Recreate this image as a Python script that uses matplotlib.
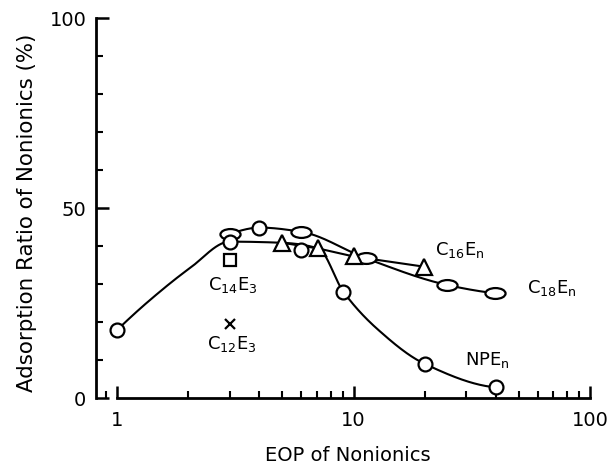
import numpy as np
import matplotlib
matplotlib.use("Agg")
import matplotlib.pyplot as plt
from matplotlib.path import Path
from matplotlib.transforms import Affine2D
from matplotlib.ticker import FixedLocator, NullFormatter, MultipleLocator, LogLocator

plt.rcParams['font.family'] = ['DejaVu Sans']
plt.rcParams['mathtext.fontset'] = 'dejavusans'

# ---- data ----
npe_x = [1, 3, 4, 6, 9, 20, 40]
npe_y = [17.9, 41.2, 44.9, 39.0, 28.0, 9.0, 2.8]

c18_x = [3, 6, 11.3, 24.8, 39.7]
c18_y = [43.2, 43.8, 36.8, 29.8, 27.6]

c16_x = [5, 7.1, 10, 19.9]
c16_y = [40.9, 39.4, 37.3, 34.6]

c14_x = [3]
c14_y = [36.4]

c12_x = [3]
c12_y = [19.5]

# fitted curves (as drawn in the picture)
low_curve_x = [1, 1.36, 2.04, 3, 5, 7.1, 9.06, 12.6, 20, 40]
low_curve_y = [17.9, 25.5, 34.3, 41.2, 40.9, 39.4, 28.0, 18.2, 9.0, 2.8]
up_curve_x = [3, 4.02, 6, 11.3, 24.8, 39.7]
up_curve_y = [43.2, 44.9, 43.8, 36.8, 29.8, 27.6]

x_ticks = [1, 10, 100]
x_ticklabels = ['1', '10', '100']
y_ticks = [0, 50, 100]
y_ticklabels = ['0', '50', '100']


def pchip(xs, ys, xn):
    xs = np.asarray(xs, float); ys = np.asarray(ys, float)
    h = np.diff(xs); d = np.diff(ys) / h
    n = len(xs); m = np.zeros(n)
    for k in range(1, n - 1):
        if d[k - 1] * d[k] > 0:
            w1 = 2 * h[k] + h[k - 1]; w2 = h[k] + 2 * h[k - 1]
            m[k] = (w1 + w2) / (w1 / d[k - 1] + w2 / d[k])
    def endm(h0, h1, d0, d1):
        v = ((2 * h0 + h1) * d0 - h0 * d1) / (h0 + h1)
        if np.sign(v) != np.sign(d0):
            v = 0.0
        elif np.sign(d0) != np.sign(d1) and abs(v) > abs(3 * d0):
            v = 3 * d0
        return v
    m[0] = endm(h[0], h[1], d[0], d[1])
    m[-1] = endm(h[-1], h[-2], d[-1], d[-2])
    idx = np.clip(np.searchsorted(xs, xn) - 1, 0, n - 2)
    t = (xn - xs[idx]) / h[idx]
    h00 = 2 * t**3 - 3 * t**2 + 1; h10 = t**3 - 2 * t**2 + t
    h01 = -2 * t**3 + 3 * t**2; h11 = t**3 - t**2
    return h00 * ys[idx] + h10 * h[idx] * m[idx] + h01 * ys[idx + 1] + h11 * h[idx] * m[idx + 1]


def smooth(cx, cy):
    lx = np.log10(cx)
    xn = np.linspace(lx[0], lx[-1], 400)
    return 10 ** xn, pchip(lx, cy, xn)


fig = plt.figure(figsize=(6.12, 4.65), dpi=100)
ax = fig.add_axes([96 / 612, 1 - 398 / 465, 494 / 612, 379.5 / 465])

lw = 1.5
sx, sy = smooth(low_curve_x, low_curve_y)
ax.plot(sx, sy, color='black', lw=lw, zorder=2)
sx, sy = smooth(up_curve_x, up_curve_y)
ax.plot(sx, sy, color='black', lw=lw, zorder=2)
ax.plot(c16_x, c16_y, color='black', lw=lw, zorder=2)

ellipse = Path.unit_circle().transformed(Affine2D().scale(1.0, 0.54))

mk = dict(linestyle='none', markerfacecolor='white', markeredgecolor='black',
          markeredgewidth=1.6, clip_on=False)
ax.plot(c18_x, c18_y, marker=ellipse, markersize=14.5, zorder=4, **mk)
ax.plot(npe_x, npe_y, marker='o', markersize=10, zorder=5, **mk)
ax.plot(c16_x, c16_y, marker='^', markersize=11.5, zorder=4, **mk)
ax.plot(c14_x, c14_y, marker='s', markersize=9, zorder=3, **mk)
ax.plot(c12_x, c12_y, marker='x', markersize=7.5, color='black',
        markeredgewidth=1.6, linestyle='none', zorder=4)

tfs = 13
ax.text(3.1, 29.8, r'C$_{14}$E$_{3}$', fontsize=tfs, ha='center', va='center')
ax.text(3.07, 14.1, r'C$_{12}$E$_{3}$', fontsize=tfs, ha='center', va='center')
ax.text(22.1, 39.0, r'C$_{16}$E$_{\mathrm{n}}$', fontsize=tfs, ha='left', va='center')
ax.text(54, 28.9, r'C$_{18}$E$_{\mathrm{n}}$', fontsize=tfs, ha='left', va='center')
ax.text(29.6, 10.0, r'NPE$_{\mathrm{n}}$', fontsize=tfs, ha='left', va='center')

ax.set_xscale('log')
ax.set_xlim(10 ** (-21 / 236.5), 100)
ax.set_ylim(0, 100)

ax.xaxis.set_major_locator(FixedLocator(x_ticks))
ax.set_xticklabels(x_ticklabels)
ax.xaxis.set_minor_locator(LogLocator(base=10, subs=np.arange(2, 10)))
ax.xaxis.set_minor_formatter(NullFormatter())
ax.yaxis.set_major_locator(FixedLocator(y_ticks))
ax.set_yticklabels(y_ticklabels)
ax.yaxis.set_minor_locator(MultipleLocator(10))

ax.tick_params(which='major', direction='in', length=9, width=1.8, labelsize=14, pad=7)
ax.tick_params(which='minor', direction='in', length=5, width=1.5)
ax.tick_params(axis='x', which='major', pad=9)

for s in ['top', 'right']:
    ax.spines[s].set_visible(False)
ax.spines['left'].set_bounds(0, 100)
ax.spines['bottom'].set_bounds(1, 100)
ax.spines['left'].set_linewidth(2)
ax.spines['bottom'].set_linewidth(2)

ax.set_xlabel('EOP of Nonionics', fontsize=14)
ax.set_ylabel('Adsorption Ratio of Nonionics (%)', fontsize=15.4)
ax.xaxis.label.set_va('baseline')
ax.xaxis.set_label_coords(0.509, -0.165)
ax.yaxis.label.set_va('center')
ax.yaxis.set_label_coords(-0.140, 0.487)

fig.savefig('out.png', dpi=100)
